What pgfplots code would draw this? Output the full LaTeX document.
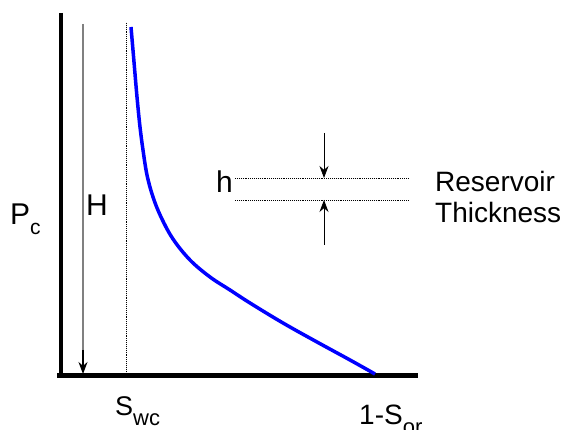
\documentclass[border=0pt]{standalone}
\usepackage{pgfplots}
\pgfplotsset{compat=1.18}
\usepackage{fontspec}
\setmainfont{Liberation Sans}
\usetikzlibrary{arrows.meta}
\begin{document}
\begin{tikzpicture}
\useasboundingbox (0,0) rectangle (569pt,430pt);
\begin{axis}[
  at={(0,0)}, anchor=south west,
  scale only axis, width=569pt, height=430pt,
  xmin=0, xmax=569, ymin=0, ymax=430,
  hide axis, clip=false]
% axes (pixel coords, y = 430 - py)
\addplot[black, line width=4.5pt, forget plot] coordinates {(61,417) (61,52.5)};
\addplot[black, line width=4.5pt, forget plot] coordinates {(57,54.5) (418,54.5)};
% S_wc dotted line
\addplot[black, densely dotted, line width=0.9pt, forget plot] coordinates {(126,407) (126,55)};
% H arrow
\addplot[gray, line width=1.3pt, forget plot] coordinates {(83,406) (83,70)};
\addplot[black, line width=1.2pt, -{Stealth[length=12pt,width=9pt]}, forget plot] coordinates {(83,80) (83,56)};
% capillary pressure curve
\addplot[blue, line width=3.5pt, smooth, tension=0.6] coordinates {
 (131,403) (134,368) (137,333) (140,303) (143,280) (147,255)
 (153,233) (161,213) (173,191) (190,170) (210,153) (230,140) (250,127)
 (283,107) (317,88) (350,70) (375,56)};
% thickness lines
\addplot[black, densely dotted, line width=0.9pt, forget plot] coordinates {(235,252) (409,252)};
\addplot[black, densely dotted, line width=0.9pt, forget plot] coordinates {(235,230) (409,230)};
\addplot[black, line width=0.8pt, -{Stealth[length=12pt,width=9pt]}, forget plot] coordinates {(324,297) (324,252)};
\addplot[black, line width=0.8pt, -{Stealth[length=12pt,width=9pt]}, forget plot] coordinates {(324,185) (324,230)};
% labels
\node[anchor=base west, inner sep=0pt, font=\fontsize{30}{30}\selectfont] at (axis cs:10,205) {P\raisebox{-10pt}{\fontsize{21}{21}\selectfont c}};
\node[anchor=base west, inner sep=0pt, font=\fontsize{30}{30}\selectfont] at (axis cs:86,214) {H};
\node[anchor=base west, inner sep=0pt, font=\fontsize{30}{30}\selectfont] at (axis cs:216,237) {h};
\node[anchor=base west, inner sep=0pt, font=\fontsize{28}{28}\selectfont] at (axis cs:435,238.5) {Reservoir};
\node[anchor=base west, inner sep=0pt, font=\fontsize{28}{28}\selectfont] at (axis cs:435,207) {Thickness};
\node[anchor=base west, inner sep=0pt, font=\fontsize{27}{27}\selectfont] at (axis cs:115,14) {S\raisebox{-10pt}{\fontsize{22}{22}\selectfont wc}};
\node[anchor=base west, inner sep=0pt, font=\fontsize{28}{28}\selectfont] at (axis cs:359,5) {1-S\raisebox{-10pt}{\fontsize{22}{22}\selectfont or}};
\end{axis}
\end{tikzpicture}
\end{document}
